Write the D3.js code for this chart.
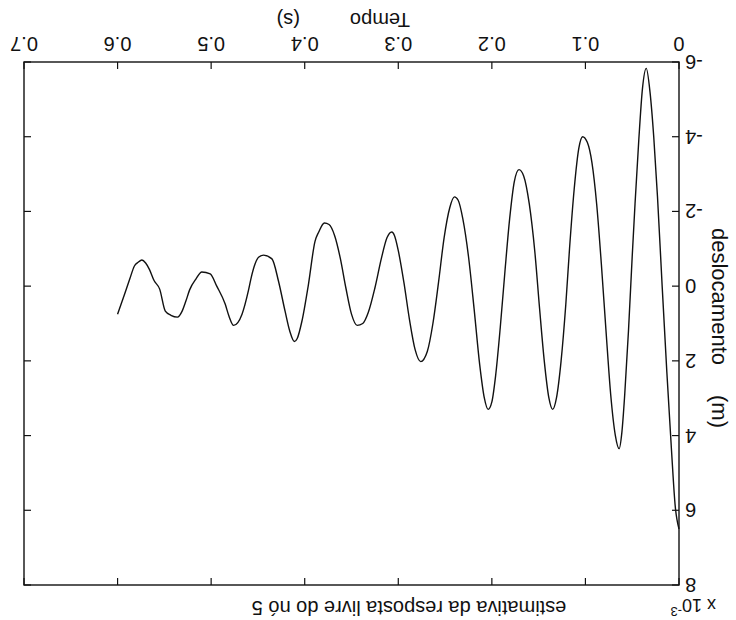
<!DOCTYPE html><html><head><meta charset="UTF-8"><script src="https://d3js.org/d3.v7.min.js"></script><style>
            body { margin: 0; background: #fff; }
            #chart { width: 736px; height: 620px; font-family: "Liberation Sans", Arial, sans-serif; }
            .line { fill: none; stroke: #111; stroke-width: 1.4px; }
            .box { fill: none; stroke: #111; stroke-width: 1.4px; }
            .tick { stroke: #111; stroke-width: 1.2px; }
            text { fill: #111; }
        </style></head><body><div id="chart"></div><script>
            // tempo (s) e deslocamento (x 10^-3 m)
            const tempo = [0.000,0.004,0.008,0.013,0.018,0.023,0.027,0.031,0.035,0.039,0.043,0.047,0.050,0.054,0.058,0.061,0.064,
                0.068,0.073,0.078,0.083,0.088,0.093,0.098,0.103,0.107,0.112,0.117,0.121,0.126,0.131,0.135,
                0.139,0.144,0.149,0.154,0.160,0.166,0.171,0.176,0.181,0.186,0.191,0.196,0.200,0.204,
                0.208,0.213,0.219,0.225,0.231,0.236,0.240,0.245,0.251,0.257,0.263,0.269,0.276,
                0.282,0.288,0.294,0.300,0.304,0.307,0.312,0.318,0.325,0.332,0.338,0.344,
                0.350,0.356,0.362,0.368,0.374,0.379,0.385,0.389,0.396,0.403,0.408,0.411,0.416,0.421,0.428,0.435,0.444,
                0.449,0.453,0.457,0.460,0.467,0.476,0.481,0.485,0.494,0.501,0.510,0.516,0.523,0.527,0.531,0.536,
                0.543,0.549,0.555,0.561,0.566,0.570,0.574,0.578,0.582,0.587,0.593,0.600];
            const deslocamento = [6.5,5.9,4.4,2.3,0.0,-2.4,-4.0,-5.2,-5.83,-5.3,-3.9,-2.2,-0.8,1.2,2.9,3.9,4.35,
                4.0,2.9,1.2,-0.6,-2.2,-3.3,-3.85,-4.0,-3.7,-2.6,-1.0,0.5,2.0,3.0,3.3,
                3.0,2.0,0.6,-0.9,-2.2,-2.95,-3.12,-2.8,-1.8,-0.4,1.1,2.4,3.1,3.3,
                3.0,2.1,0.6,-0.8,-1.8,-2.3,-2.39,-2.1,-1.3,-0.1,1.0,1.75,2.02,
                1.7,0.9,-0.1,-0.95,-1.35,-1.45,-1.3,-0.75,0.05,0.7,1.0,1.05,
                0.75,0.05,-0.75,-1.35,-1.65,-1.69,-1.45,-1.2,-0.05,0.94,1.4,1.48,1.2,0.67,-0.13,-0.73,-0.83,
                -0.78,-0.6,-0.25,0.1,0.75,1.05,0.8,0.48,0.0,-0.33,-0.38,-0.2,0.1,0.4,0.67,0.83,
                0.78,0.67,0.08,-0.15,-0.45,-0.62,-0.7,-0.64,-0.54,-0.19,0.25,0.75];
            const xTicks = [0, 0.1, 0.2, 0.3, 0.4, 0.5, 0.6, 0.7];
            const xTickLabels = ["0", "0.1", "0.2", "0.3", "0.4", "0.5", "0.6", "0.7"];
            const yTicks = [-6, -4, -2, 0, 2, 4, 6, 8];
            const yTickLabels = ["-6", "-4", "-2", "0", "2", "4", "6", "8"];

            const fullWidth = 736, fullHeight = 620;
            const margin = {top: 35, right: 24, bottom: 62, left: 57};
            const width = fullWidth - margin.left - margin.right;
            const height = fullHeight - margin.top - margin.bottom;

            const svg = d3.select('#chart').append('svg')
                .attr('width', fullWidth)
                .attr('height', fullHeight);

            // a figura original esta de cabeca para baixo
            const root = svg.append('g')
                .attr('transform', `rotate(180 ${fullWidth / 2} ${fullHeight / 2})`);

            const g = root.append('g')
                .attr('transform', `translate(${margin.left},${margin.top})`);

            const x = d3.scaleLinear().domain([0, 0.7]).range([0, width]);
            const y = d3.scaleLinear().domain([-6, 8]).range([height, 0]);
            const tl = 7;

            g.append('rect').attr('class', 'box')
                .attr('x', 0).attr('y', 0).attr('width', width).attr('height', height);

            xTicks.forEach((t, i) => {
                g.append('line').attr('class', 'tick')
                    .attr('x1', x(t)).attr('x2', x(t)).attr('y1', height).attr('y2', height - tl);
                g.append('line').attr('class', 'tick')
                    .attr('x1', x(t)).attr('x2', x(t)).attr('y1', 0).attr('y2', tl);
                g.append('text')
                    .attr('x', x(t)).attr('y', height + 25)
                    .attr('text-anchor', 'middle')
                    .style('font-size', '20px')
                    .text(xTickLabels[i]);
            });

            yTicks.forEach((v, i) => {
                g.append('line').attr('class', 'tick')
                    .attr('x1', 0).attr('x2', tl).attr('y1', y(v)).attr('y2', y(v));
                g.append('line').attr('class', 'tick')
                    .attr('x1', width).attr('x2', width - tl).attr('y1', y(v)).attr('y2', y(v));
                g.append('text')
                    .attr('x', -6).attr('y', y(v)).attr('dy', '0.35em')
                    .attr('text-anchor', 'end')
                    .style('font-size', '20px')
                    .text(yTickLabels[i]);
            });

            const line = d3.line()
                .x(d => x(d[0]))
                .y(d => y(d[1]))
                .curve(d3.curveMonotoneX);

            g.append('path')
                .datum(d3.zip(tempo, deslocamento))
                .attr('class', 'line')
                .attr('d', line);

            // titulo
            root.append('text')
                .attr('x', 327).attr('y', 19)
                .attr('text-anchor', 'middle')
                .style('font-size', '20px')
                .text('estimativa da resposta livre do nó 5');

            // fator de escala
            const sc = root.append('text')
                .attr('x', 20).attr('y', 21)
                .style('font-size', '18px');
            sc.append('tspan').text('x 10');
            sc.append('tspan').attr('dy', -8).style('font-size', '13px').text('-3');

            // rotulo do eixo x
            const xl = root.append('text')
                .attr('y', 607)
                .style('font-size', '20px');
            xl.append('tspan').attr('x', 326).text('Tempo');
            xl.append('tspan').attr('x', 436).text('(s)');

            // rotulo do eixo y
            const yl = root.append('text')
                .attr('transform', 'translate(24,392) rotate(-90)')
                .style('font-size', '22px');
            yl.append('tspan').attr('x', 0).text('deslocamento');
            yl.append('tspan').attr('x', 167).text('(m)');
        </script></body></html>
